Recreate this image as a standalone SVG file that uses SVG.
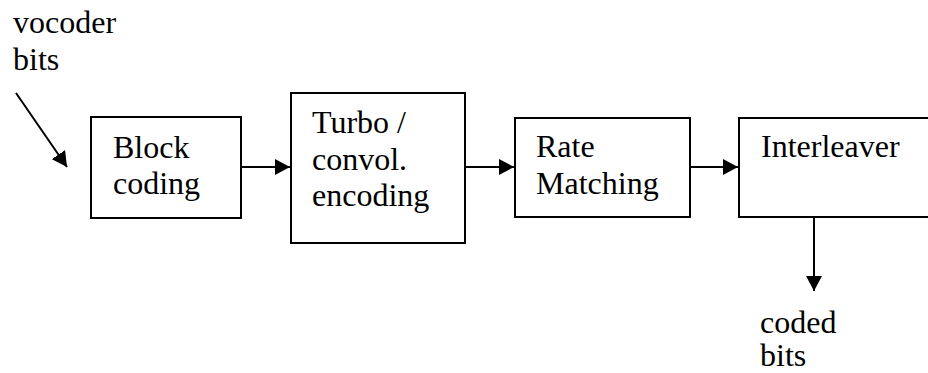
<svg xmlns="http://www.w3.org/2000/svg" width="928" height="373" viewBox="0 0 928 373">
<defs>
<style>
.box{fill:#fff;stroke:#000;stroke-width:2}
.t{font-family:"Liberation Serif","Times New Roman",serif;font-size:32px;fill:#000}
.c{stroke:#000;stroke-width:2;fill:none}
</style>
<marker id="ah" markerWidth="16" markerHeight="16" refX="15" refY="8" orient="auto" markerUnits="userSpaceOnUse">
<path d="M0,0 L15,8 L0,16 Z" fill="#000"/>
</marker>
</defs>
<rect width="928" height="373" fill="#fff"/>
<g id="label-in">
<text class="t" x="13" y="33">vocoder</text>
<text class="t" x="13" y="70">bits</text>
</g>
<g id="block-coding">
<rect class="box" x="91" y="117" width="150" height="101"/>
<text class="t" x="113" y="158">Block</text>
<text class="t" x="113" y="194">coding</text>
</g>
<g id="turbo">
<rect class="box" x="291" y="93" width="174" height="150"/>
<text class="t" x="312" y="133">Turbo /</text>
<text class="t" x="312" y="170">convol.</text>
<text class="t" x="312" y="206">encoding</text>
</g>
<g id="rate-matching">
<rect class="box" x="515" y="118" width="175" height="99"/>
<text class="t" x="536" y="157">Rate</text>
<text class="t" x="536" y="194">Matching</text>
</g>
<g id="interleaver">
<rect class="box" x="739" y="118" width="200" height="99"/>
<text class="t" x="761" y="157">Interleaver</text>
</g>
<g id="label-out">
<text class="t" x="760" y="333">coded</text>
<text class="t" x="760" y="366">bits</text>
</g>
<g id="connectors">
<line class="c" x1="16" y1="93" x2="67" y2="167" marker-end="url(#ah)"/>
<line class="c" x1="241" y1="167" x2="290" y2="167" marker-end="url(#ah)"/>
<line class="c" x1="465" y1="167" x2="514" y2="167" marker-end="url(#ah)"/>
<line class="c" x1="690" y1="167" x2="738" y2="167" marker-end="url(#ah)"/>
<line class="c" x1="814" y1="217" x2="814" y2="291" marker-end="url(#ah)"/>
</g>
</svg>
